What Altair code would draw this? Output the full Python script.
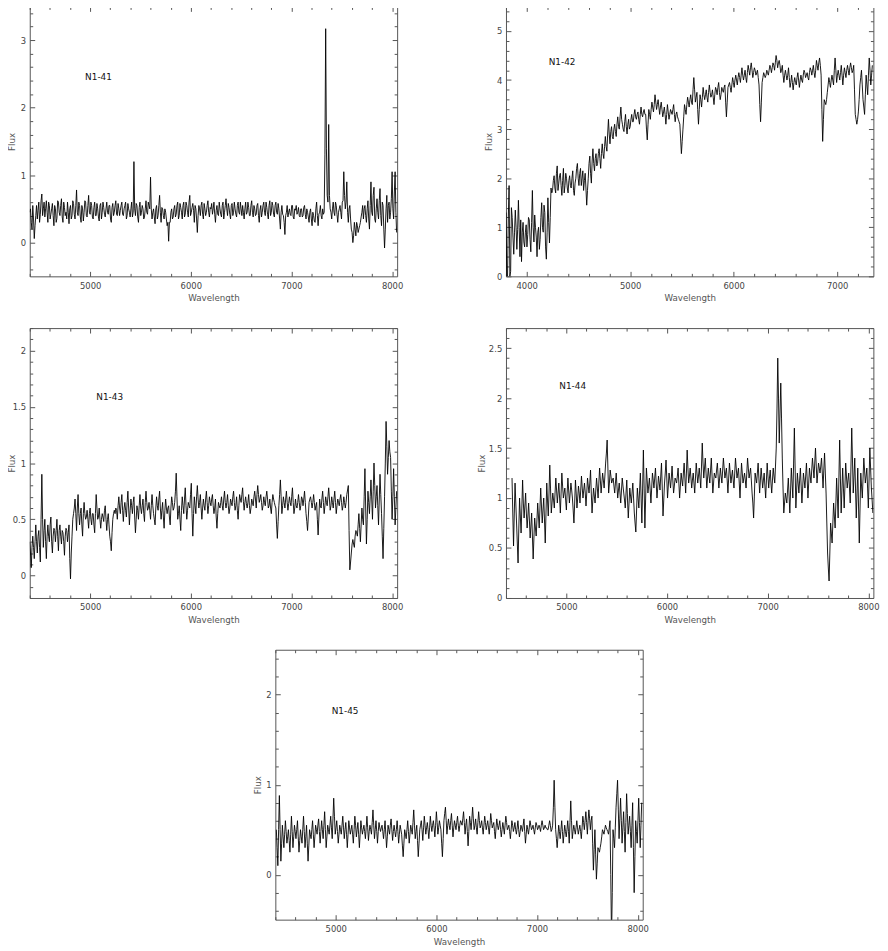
import altair as alt
import pandas as pd

W = 371.6
H = 273

# ---------------- data ----------------
# Each spectrum: flux read every 15 A from START, plus a second set of
# readings taken half-way between those samples (START + 7.5 + 15*i).
N141_START, N141_STEP = 4400, 15
N141_FLUX = [
    0.45, 0.3, 0.55, 0.06, 0.4, 0.35, 0.6, 0.42, 0.72, 0.5,
    0.38, 0.62, 0.3, 0.55, 0.42, 0.58, 0.25, 0.5, 0.36, 0.6,
    0.4, 0.65, 0.3, 0.52, 0.45, 0.6, 0.28, 0.55, 0.4, 0.58,
    0.35, 0.78, 0.4, 0.55, 0.3, 0.5, 0.45, 0.6, 0.38, 0.7,
    0.42, 0.55, 0.35, 0.6, 0.4, 0.5, 0.32, 0.58, 0.45, 0.52,
    0.38, 0.6, 0.42, 0.55, 0.3, 0.58, 0.45, 0.62, 0.4, 0.5,
    0.48, 0.6, 0.4, 0.55, 0.35, 0.58, 0.45, 0.5, 0.38, 1.2,
    0.4, 0.55, 0.3, 0.6, 0.45, 0.5, 0.38, 0.62, 0.42, 0.55,
    0.97, 0.35, 0.5, 0.28, 0.55, 0.4, 0.7, 0.3, 0.5, 0.35,
    0.45, 0.25, 0.02, 0.3, 0.5, 0.38, 0.55, 0.42, 0.6, 0.4,
    0.52, 0.35, 0.6, 0.42, 0.55, 0.38, 0.7, 0.45, 0.58, 0.3,
    0.5, 0.15, 0.55, 0.4, 0.6, 0.35, 0.5, 0.45, 0.62, 0.38,
    0.5, 0.42, 0.6, 0.3, 0.55, 0.4, 0.5, 0.38, 0.6, 0.45,
    0.65, 0.4, 0.52, 0.35, 0.58, 0.45, 0.5, 0.38, 0.6, 0.42,
    0.5, 0.55, 0.35, 0.6, 0.45, 0.52, 0.4, 0.62, 0.38, 0.5,
    0.42, 0.58, 0.3, 0.55, 0.45, 0.6, 0.4, 0.52, 0.35, 0.62,
    0.45, 0.55, 0.38, 0.6, 0.42, 0.5, 0.2, 0.55, 0.4, 0.12,
    0.45, 0.38, 0.5, 0.4, 0.55, 0.35, 0.48, 0.42, 0.52, 0.38,
    0.5, 0.4, 0.55, 0.35, 0.45, 0.3, 0.5, 0.25, 0.4, 0.3,
    0.6, 0.25, 0.45, 0.4, 0.5, 0.45, 3.17, 0.7, 1.75, 0.5,
    0.35, 0.6, 0.4, 0.55, 0.3, 0.5, 0.45, 0.6, 1.05, 0.5,
    0.9, 0.3, 0.55, 0.2, 0.0, 0.3, 0.1, 0.25, 0.2, 0.3,
    0.45, 0.35, 0.55, 0.3, 0.62, 0.2, 0.9, 0.4, 0.82, 0.3,
    0.65, 0.35, 0.8, 0.25, 0.55, -0.08, 0.5, 0.3, 0.6, 0.45,
    1.05, 0.35, 1.05, 0.15,
]
N141_MID = [
    0.5, 0.2, 0.35, 0.25, 0.55, 0.48, 0.3, 0.62, 0.4, 0.6,
    0.5, 0.45, 0.6, 0.35, 0.5, 0.4, 0.55, 0.3, 0.62, 0.45,
    0.55, 0.38, 0.6, 0.4, 0.35, 0.45, 0.5, 0.35, 0.62, 0.42,
    0.55, 0.45, 0.6, 0.38, 0.55, 0.32, 0.62, 0.4, 0.55, 0.45,
    0.6, 0.38, 0.52, 0.4, 0.58, 0.38, 0.55, 0.35, 0.6, 0.42,
    0.5, 0.45, 0.55, 0.35, 0.52, 0.4, 0.55, 0.42, 0.58, 0.4,
    0.55, 0.42, 0.5, 0.6, 0.4, 0.5, 0.38, 0.6, 0.45, 0.5,
    0.58, 0.38, 0.52, 0.4, 0.55, 0.35, 0.5, 0.45, 0.6, 0.5,
    0.5, 0.45, 0.38, 0.5, 0.35, 0.55, 0.45, 0.52, 0.4, 0.5,
    0.35, 0.3, 0.3, 0.45, 0.35, 0.5, 0.38, 0.55, 0.35, 0.58,
    0.45, 0.55, 0.38, 0.6, 0.45, 0.6, 0.4, 0.52, 0.48, 0.55,
    0.35, 0.4, 0.5, 0.55, 0.42, 0.58, 0.4, 0.55, 0.45, 0.52,
    0.58, 0.5, 0.42, 0.48, 0.42, 0.6, 0.42, 0.55, 0.35, 0.55,
    0.5, 0.58, 0.42, 0.55, 0.4, 0.6, 0.42, 0.55, 0.45, 0.6,
    0.4, 0.45, 0.5, 0.42, 0.6, 0.4, 0.55, 0.45, 0.55, 0.4,
    0.55, 0.4, 0.48, 0.38, 0.55, 0.45, 0.6, 0.42, 0.55, 0.4,
    0.6, 0.42, 0.55, 0.45, 0.58, 0.35, 0.45, 0.42, 0.3, 0.4,
    0.55, 0.45, 0.42, 0.55, 0.38, 0.5, 0.55, 0.45, 0.4, 0.5,
    0.38, 0.52, 0.42, 0.5, 0.38, 0.45, 0.35, 0.45, 0.32, 0.5,
    0.4, 0.42, 0.55, 0.35, 0.42, 1.3, 1.4, 0.6, 0.7, 0.45,
    0.5, 0.45, 0.6, 0.42, 0.45, 0.55, 0.35, 0.62, 0.7, 0.6,
    0.45, 0.5, 0.35, 0.15, 0.1, 0.2, 0.3, 0.15, 0.25, 0.38,
    0.55, 0.5, 0.4, 0.5, 0.35, 0.55, 0.45, 0.7, 0.35, 0.5,
    0.45, 0.62, 0.4, 0.6, 0.2, 0.2, 0.7, 0.55, 0.35, 0.65,
    0.5, 0.75, 0.45,
]

N142_START, N142_STEP = 3800, 15
N142_FLUX = [
    1.3, 0.0, 1.85, 0.1, 1.2, 0.45, 1.35, 0.55, 1.55, 0.4,
    0.3, 1.1, 0.6, 1.05, 0.85, 1.15, 0.5, 1.75, 0.7, 1.0,
    0.4, 1.0, 0.75, 1.5, 0.9, 1.3, 0.35, 1.6, 0.68, 1.8,
    1.75, 2.05, 1.7, 2.25, 1.9, 2.1, 1.65, 2.2, 1.85, 2.0,
    1.7, 2.05, 1.8, 2.15, 1.65, 2.0, 2.3, 1.85, 2.2, 2.0,
    1.75, 2.1, 1.45, 2.0, 2.45, 1.9, 2.6, 2.15, 2.5, 2.3,
    2.6, 2.2, 2.7, 2.4, 2.85, 2.55, 3.2, 2.7, 3.05, 2.8,
    3.1, 2.85, 3.25, 3.0, 3.45, 3.1, 2.95, 3.3, 2.9, 3.2,
    3.05, 3.3, 3.15, 3.4, 3.2, 3.35, 3.1, 3.45, 3.25, 3.4,
    3.3, 2.78, 3.4, 3.2, 3.55, 3.35, 3.7, 3.4, 3.6, 3.3,
    3.55, 3.25, 3.45, 3.1, 3.5, 3.2, 3.4, 3.3, 3.5, 3.15,
    3.35, 3.2, 3.1, 2.5, 3.0, 3.5, 3.3, 3.65, 3.45, 3.7,
    3.5, 4.05, 3.55, 3.75, 3.1, 3.7, 3.45, 3.85, 3.6, 3.8,
    3.55, 3.9, 3.65, 3.8, 3.5, 3.85, 3.7, 3.95, 3.6, 3.85,
    3.75, 3.9, 3.25, 3.85, 3.95, 3.75, 4.05, 3.85, 4.1, 3.9,
    4.15, 3.95, 4.25, 4.0, 4.2, 3.95, 4.3, 4.1, 4.35, 4.05,
    4.25, 4.1, 4.2, 3.9, 3.15, 3.95, 4.15, 4.05, 4.2, 4.1,
    4.3, 4.15, 4.35, 4.2, 4.5, 4.25, 4.4, 4.15, 4.3, 3.95,
    4.2, 4.0, 4.25, 3.85, 4.1, 3.8, 4.05, 3.9, 4.15, 3.85,
    4.1, 3.95, 4.2, 4.05, 4.15, 4.0, 4.25, 4.1, 4.3, 4.05,
    4.4, 4.2, 4.45, 4.1, 2.75, 3.6, 3.5, 3.75, 4.05, 3.85,
    4.1, 3.9, 4.45, 3.95, 4.2, 4.0, 4.3, 3.9, 4.25, 4.05,
    4.3, 4.1, 4.35, 4.15, 4.3, 3.3, 3.1, 3.35, 3.9, 4.2,
    3.6, 3.3, 4.1, 3.7, 4.45, 3.9, 4.3,
]
N142_MID = [
    0.0, 1.2, 0.0, 1.4, 0.8, 0.9, 1.0, 0.95, 1.0, 1.15,
    0.9, 0.7, 0.9, 0.6, 1.2, 0.75, 1.1, 1.0, 1.25, 0.8,
    0.9, 0.55, 1.2, 1.0, 1.45, 0.6, 0.9, 1.1, 1.2, 1.7,
    1.95, 1.8, 2.1, 1.75, 2.05, 1.85, 1.95, 1.7, 2.1, 1.8,
    1.95, 1.85, 2.0, 1.75, 1.9, 2.2, 2.0, 2.1, 1.85, 2.15,
    1.95, 1.8, 1.75, 2.3, 2.1, 2.35, 2.3, 2.4, 2.25, 2.5,
    2.4, 2.5, 2.5, 2.65, 2.65, 2.9, 2.9, 2.95, 2.85, 3.0,
    2.95, 3.1, 3.05, 3.25, 3.2, 3.0, 3.15, 3.05, 3.1, 3.0,
    3.2, 3.15, 3.3, 3.25, 3.3, 3.2, 3.3, 3.3, 3.35, 3.3,
    3.0, 3.1, 3.3, 3.4, 3.45, 3.5, 3.55, 3.5, 3.45, 3.45,
    3.4, 3.35, 3.3, 3.3, 3.35, 3.3, 3.35, 3.4, 3.3, 3.3,
    3.25, 3.15, 2.8, 2.75, 3.25, 3.4, 3.5, 3.55, 3.6, 3.55,
    3.8, 3.8, 3.65, 3.4, 3.4, 3.6, 3.65, 3.7, 3.7, 3.65,
    3.75, 3.75, 3.7, 3.65, 3.7, 3.8, 3.85, 3.75, 3.7, 3.8,
    3.85, 3.55, 3.55, 3.9, 3.85, 3.9, 3.95, 4.0, 4.0, 4.05,
    4.05, 4.1, 4.1, 4.1, 4.05, 4.15, 4.2, 4.25, 4.2, 4.15,
    4.2, 4.15, 4.05, 3.5, 3.55, 4.05, 4.1, 4.1, 4.15, 4.2,
    4.25, 4.25, 4.3, 4.35, 4.4, 4.35, 4.3, 4.2, 4.1, 4.1,
    4.1, 4.1, 4.05, 3.95, 3.95, 3.95, 3.95, 4.05, 4.0, 4.0,
    4.0, 4.1, 4.15, 4.1, 4.05, 4.15, 4.2, 4.2, 4.15, 4.2,
    4.3, 4.35, 4.3, 3.4, 3.2, 3.55, 3.6, 3.9, 3.95, 4.0,
    4.0, 4.2, 4.2, 4.1, 4.1, 4.15, 4.1, 4.1, 4.15, 4.2,
    4.2, 4.25, 4.25, 4.2, 3.8, 3.2, 3.2, 3.6, 4.05, 3.9,
    3.45, 3.7, 3.9, 4.1, 4.2, 4.1,
]

N143_START, N143_STEP = 4400, 15
N143_FLUX = [
    0.3, 0.07, 0.35, 0.15, 0.45, 0.2, 0.4, 0.12, 0.9, 0.25,
    0.5, 0.15, 0.45, 0.3, 0.52, 0.2, 0.42, 0.3, 0.5, 0.22,
    0.45, 0.28, 0.38, 0.18, 0.42, 0.3, 0.45, -0.03, 0.35, 0.55,
    0.68, 0.4, 0.72, 0.45, 0.6, 0.35, 0.65, 0.5, 0.58, 0.42,
    0.6, 0.45, 0.55, 0.38, 0.72, 0.5, 0.6, 0.42, 0.55, 0.48,
    0.62, 0.4, 0.55, 0.35, 0.22, 0.5, 0.58, 0.6, 0.5, 0.7,
    0.55, 0.72, 0.48, 0.65, 0.52, 0.75, 0.45, 0.68, 0.55, 0.7,
    0.38, 0.62, 0.5, 0.72, 0.55, 0.68, 0.48, 0.75, 0.58, 0.65,
    0.5, 0.72, 0.55, 0.45, 0.7, 0.58, 0.75, 0.5, 0.65, 0.42,
    0.68, 0.55, 0.62, 0.45, 0.7, 0.58, 0.65, 0.91, 0.5, 0.62,
    0.4, 0.7, 0.55, 0.78, 0.5, 0.65, 0.6, 0.82, 0.35, 0.7,
    0.55, 0.8, 0.6, 0.72, 0.5, 0.68, 0.58, 0.75, 0.55, 0.7,
    0.62, 0.72, 0.55, 0.68, 0.42, 0.65, 0.6, 0.7, 0.58, 0.75,
    0.6, 0.72, 0.55, 0.68, 0.62, 0.75, 0.58, 0.7, 0.5, 0.72,
    0.65, 0.78, 0.58, 0.7, 0.6, 0.72, 0.55, 0.68, 0.62, 0.75,
    0.6, 0.8, 0.65, 0.72, 0.58, 0.7, 0.62, 0.75, 0.6, 0.68,
    0.55, 0.72, 0.65, 0.6, 0.33, 0.62, 0.85, 0.55, 0.7, 0.6,
    0.75, 0.58, 0.7, 0.62, 0.78, 0.55, 0.68, 0.6, 0.72, 0.58,
    0.7, 0.62, 0.75, 0.55, 0.4, 0.65, 0.7, 0.6, 0.72, 0.58,
    0.65, 0.36, 0.68, 0.6, 0.75, 0.55, 0.7, 0.62, 0.78, 0.58,
    0.7, 0.6, 0.75, 0.55, 0.68, 0.62, 0.72, 0.58, 0.7, 0.6,
    0.72, 0.8, 0.05, 0.2, 0.32, 0.25, 0.4, 0.35, 0.55, 0.3,
    0.6, 0.45, 0.95, 0.28, 0.75, 0.55, 0.85, 0.5, 1.0, 0.6,
    0.8, 0.45, 0.9, 0.55, 0.15, 0.7, 1.37, 0.9, 1.2, 1.05,
    0.5, 0.95, 0.45, 0.75,
]
N143_MID = [
    0.2, 0.25, 0.25, 0.3, 0.3, 0.35, 0.25, 0.5, 0.5, 0.4,
    0.3, 0.35, 0.35, 0.45, 0.3, 0.35, 0.4, 0.4, 0.35, 0.4,
    0.35, 0.4, 0.3, 0.35, 0.4, 0.38, 0.15, 0.2, 0.5, 0.6,
    0.55, 0.6, 0.55, 0.55, 0.45, 0.55, 0.55, 0.52, 0.5, 0.55,
    0.5, 0.55, 0.45, 0.55, 0.6, 0.52, 0.5, 0.5, 0.52, 0.58,
    0.5, 0.5, 0.45, 0.3, 0.38, 0.55, 0.55, 0.58, 0.62, 0.6,
    0.65, 0.58, 0.6, 0.58, 0.65, 0.6, 0.58, 0.62, 0.65, 0.52,
    0.5, 0.58, 0.62, 0.6, 0.62, 0.55, 0.65, 0.65, 0.6, 0.58,
    0.62, 0.62, 0.5, 0.6, 0.62, 0.68, 0.6, 0.58, 0.52, 0.58,
    0.6, 0.6, 0.52, 0.6, 0.65, 0.6, 0.75, 0.7, 0.55, 0.5,
    0.58, 0.62, 0.68, 0.62, 0.58, 0.62, 0.72, 0.55, 0.55, 0.62,
    0.7, 0.68, 0.65, 0.6, 0.6, 0.62, 0.68, 0.65, 0.62, 0.65,
    0.68, 0.62, 0.6, 0.52, 0.55, 0.62, 0.65, 0.62, 0.68, 0.65,
    0.65, 0.62, 0.6, 0.65, 0.7, 0.65, 0.62, 0.58, 0.62, 0.68,
    0.72, 0.66, 0.65, 0.64, 0.65, 0.62, 0.6, 0.65, 0.7, 0.68,
    0.72, 0.72, 0.68, 0.65, 0.62, 0.65, 0.7, 0.68, 0.62, 0.6,
    0.65, 0.68, 0.62, 0.45, 0.48, 0.72, 0.7, 0.62, 0.65, 0.68,
    0.65, 0.64, 0.65, 0.7, 0.65, 0.6, 0.62, 0.65, 0.65, 0.62,
    0.68, 0.68, 0.65, 0.48, 0.52, 0.68, 0.65, 0.65, 0.65, 0.62,
    0.5, 0.52, 0.62, 0.68, 0.65, 0.62, 0.65, 0.7, 0.68, 0.62,
    0.65, 0.68, 0.65, 0.62, 0.65, 0.68, 0.65, 0.62, 0.65, 0.65,
    0.76, 0.4, 0.12, 0.28, 0.28, 0.35, 0.38, 0.45, 0.42, 0.45,
    0.5, 0.7, 0.6, 0.5, 0.65, 0.7, 0.68, 0.75, 0.8, 0.7,
    0.62, 0.68, 0.72, 0.35, 0.42, 1.0, 1.15, 1.05, 1.1, 0.75,
    0.7, 0.7, 0.6,
]

N144_START, N144_STEP = 4460, 15
N144_FLUX = [
    1.2, 0.52, 1.15, 0.75, 0.35, 1.0, 0.65, 1.18, 0.8, 1.05,
    0.7, 0.95, 0.6, 0.85, 0.39, 0.8, 0.62, 0.95, 0.7, 1.1,
    0.75, 1.0, 0.55, 1.15, 0.82, 1.33, 0.85, 1.05, 0.9, 1.2,
    0.95, 1.15, 0.85, 1.25, 1.0, 1.1, 0.88, 1.2, 0.95, 1.15,
    1.0, 0.75, 1.18, 0.9, 1.12, 0.95, 1.22, 1.0, 1.15, 0.92,
    1.2, 1.05, 1.28, 0.85, 1.1, 0.95, 1.2, 1.0, 1.3, 1.05,
    1.25, 1.1, 1.35, 1.58, 1.05, 1.28, 1.15, 1.2, 1.05, 1.25,
    1.0, 1.15, 0.95, 1.2, 1.05, 0.9, 1.18, 0.8, 1.1, 0.95,
    1.15, 0.85, 0.66, 1.1, 0.9, 1.25, 0.75, 1.48, 0.7, 1.3,
    1.05, 1.2, 0.95, 1.25, 1.1, 1.3, 1.0, 1.22, 1.08, 1.35,
    0.82, 1.15, 1.38, 1.0, 1.25, 1.1, 1.32, 1.05, 1.2, 1.15,
    1.3, 1.0, 1.25, 1.12, 1.35, 1.05, 1.48, 1.15, 1.3, 1.1,
    1.25, 1.05, 1.35, 1.15, 1.3, 1.1, 1.55, 1.2, 1.4, 1.1,
    1.3, 1.15, 1.4, 1.05, 1.25, 1.2, 1.35, 1.1, 1.3, 1.15,
    1.4, 1.2, 1.3, 1.05, 1.35, 1.15, 1.28, 1.1, 1.4, 1.2,
    1.3, 1.0, 1.35, 1.15, 1.25, 1.1, 1.4, 1.2, 1.3, 1.05,
    0.8, 1.25, 1.15, 1.35, 1.05, 1.3, 1.1, 1.25, 1.0, 1.35,
    1.1, 1.28, 1.05, 1.3, 1.15, 1.5, 2.4, 1.55, 2.15, 1.4,
    0.85, 1.05, 0.95, 1.2, 0.85, 1.3, 1.0, 1.7, 0.9, 1.25,
    1.05, 1.3, 0.95, 1.25, 1.1, 1.35, 1.0, 1.3, 1.15, 1.4,
    1.2, 1.5, 1.15, 1.35, 1.25, 1.4, 1.1, 1.45, 1.05, 0.45,
    0.17, 0.75, 0.55, 0.95, 0.7, 1.2, 0.8, 1.58, 0.85, 1.3,
    0.9, 1.35, 1.1, 1.25, 0.95, 1.7, 1.05, 1.4, 0.8, 1.3,
    0.55, 1.25, 1.0, 1.4, 1.15, 1.3, 0.9, 1.5, 1.1, 0.85,
]
N144_MID = [
    0.85, 0.85, 0.95, 0.55, 0.7, 0.82, 0.9, 0.95, 0.92, 0.85,
    0.82, 0.78, 0.72, 0.62, 0.6, 0.7, 0.78, 0.82, 0.9, 0.92,
    0.88, 0.78, 0.85, 0.98, 1.05, 1.1, 0.95, 0.98, 1.05, 1.08,
    1.05, 1.0, 1.05, 1.12, 1.05, 0.98, 1.05, 1.08, 1.05, 1.08,
    0.88, 0.95, 1.05, 1.0, 1.05, 1.08, 1.1, 1.08, 1.05, 1.05,
    1.12, 1.15, 1.05, 0.98, 1.02, 1.08, 1.1, 1.15, 1.18, 1.15,
    1.18, 1.22, 1.45, 1.3, 1.15, 1.22, 1.18, 1.12, 1.15, 1.12,
    1.08, 1.05, 1.08, 1.12, 0.98, 1.05, 0.98, 0.95, 1.02, 1.05,
    1.0, 0.75, 0.88, 1.0, 1.08, 1.0, 1.1, 1.1, 1.0, 1.18,
    1.12, 1.08, 1.1, 1.18, 1.2, 1.15, 1.1, 1.15, 1.22, 1.1,
    0.98, 1.25, 1.2, 1.12, 1.18, 1.2, 1.18, 1.12, 1.18, 1.22,
    1.15, 1.12, 1.18, 1.25, 1.2, 1.25, 1.3, 1.22, 1.2, 1.18,
    1.15, 1.2, 1.25, 1.22, 1.2, 1.32, 1.35, 1.3, 1.25, 1.2,
    1.22, 1.28, 1.22, 1.15, 1.22, 1.28, 1.22, 1.2, 1.22, 1.28,
    1.3, 1.25, 1.18, 1.2, 1.25, 1.22, 1.18, 1.25, 1.3, 1.25,
    1.15, 1.18, 1.25, 1.2, 1.18, 1.25, 1.3, 1.25, 1.18, 0.95,
    1.02, 1.2, 1.25, 1.2, 1.18, 1.2, 1.18, 1.12, 1.18, 1.22,
    1.2, 1.15, 1.18, 1.22, 1.32, 1.9, 2.0, 1.85, 1.8, 1.1,
    0.95, 1.0, 1.08, 1.02, 1.08, 1.15, 1.35, 1.3, 1.08, 1.15,
    1.18, 1.12, 1.1, 1.18, 1.22, 1.18, 1.15, 1.22, 1.28, 1.3,
    1.35, 1.32, 1.25, 1.3, 1.32, 1.25, 1.28, 1.25, 0.75, 0.3,
    0.45, 0.65, 0.75, 0.82, 0.95, 1.0, 1.2, 1.2, 1.08, 1.1,
    1.12, 1.22, 1.18, 1.1, 1.32, 1.38, 1.22, 1.1, 1.05, 0.92,
    0.9, 1.12, 1.2, 1.28, 1.22, 1.1, 1.2, 1.3, 0.98,
]

N145_START, N145_STEP = 4410, 15
N145_FLUX = [
    0.5, 0.1, 0.88, 0.15, 0.55, 0.3, 0.6, 0.35, 0.5, 0.25,
    0.65, 0.3, 0.55, 0.4, 0.6, 0.25, 0.5, 0.35, 0.65, 0.3,
    0.55, 0.15, 0.5, 0.4, 0.6, 0.3, 0.55, 0.45, 0.62, 0.35,
    0.6, 0.4, 0.7, 0.3, 0.55, 0.45, 0.65, 0.4, 0.85, 0.45,
    0.6, 0.35, 0.55, 0.45, 0.65, 0.4, 0.58, 0.3, 0.6, 0.45,
    0.55, 0.35, 0.65, 0.42, 0.58, 0.3, 0.6, 0.45, 0.55, 0.4,
    0.65, 0.38, 0.55, 0.45, 0.72, 0.4, 0.6, 0.35, 0.58, 0.48,
    0.55, 0.4, 0.6, 0.3, 0.55, 0.45, 0.62, 0.38, 0.55, 0.42,
    0.6, 0.35, 0.55, 0.45, 0.2, 0.5, 0.4, 0.6, 0.35, 0.55,
    0.45, 0.72, 0.4, 0.55, 0.2, 0.5, 0.6, 0.38, 0.65, 0.45,
    0.58, 0.4, 0.65, 0.48, 0.6, 0.42, 0.7, 0.45, 0.6, 0.5,
    0.2, 0.6, 0.75, 0.45, 0.62, 0.5, 0.68, 0.42, 0.6, 0.5,
    0.65, 0.48, 0.6, 0.55, 0.7, 0.45, 0.62, 0.32, 0.65, 0.5,
    0.75, 0.5, 0.62, 0.45, 0.7, 0.52, 0.6, 0.45, 0.65, 0.5,
    0.6, 0.45, 0.68, 0.52, 0.58, 0.4, 0.62, 0.5, 0.6, 0.42,
    0.58, 0.45, 0.65, 0.5, 0.55, 0.4, 0.6, 0.48, 0.58, 0.45,
    0.6, 0.42, 0.55, 0.48, 0.62, 0.35, 0.55, 0.45, 0.6, 0.5,
    0.55, 0.45, 0.58, 0.5, 0.55, 0.48, 0.6, 0.5, 0.55, 0.52,
    0.5, 0.6, 0.48, 0.55, 1.05, 0.5, 0.3, 0.55, 0.4, 0.6,
    0.35, 0.55, 0.42, 0.6, 0.35, 0.82, 0.4, 0.55, 0.45, 0.6,
    0.45, 0.55, 0.4, 0.65, 0.5, 0.7, 0.45, 0.72, 0.5, 0.65,
    0.05, 0.5, -0.05, 0.3, 0.25, 0.35, 0.5, 0.45, 0.55, 0.5,
    0.45, 0.6, -0.7, 0.5, 0.3, 0.75, 1.05, 0.4, 0.85, 0.35,
    0.7, 0.25, 0.9, 0.45, 0.65, 0.3, 0.8, -0.2, 0.6, 0.35,
    0.85, 0.3, 0.8,
]
N145_MID = [
    0.3, 0.5, 0.5, 0.35, 0.42, 0.45, 0.48, 0.42, 0.38, 0.45,
    0.48, 0.42, 0.48, 0.5, 0.42, 0.38, 0.42, 0.5, 0.48, 0.42,
    0.35, 0.32, 0.45, 0.5, 0.45, 0.42, 0.5, 0.55, 0.48, 0.48,
    0.5, 0.55, 0.5, 0.42, 0.5, 0.55, 0.52, 0.62, 0.65, 0.52,
    0.48, 0.45, 0.5, 0.55, 0.52, 0.5, 0.45, 0.45, 0.52, 0.5,
    0.45, 0.5, 0.55, 0.5, 0.45, 0.45, 0.52, 0.5, 0.48, 0.52,
    0.52, 0.48, 0.5, 0.58, 0.55, 0.5, 0.48, 0.48, 0.52, 0.52,
    0.48, 0.5, 0.45, 0.42, 0.5, 0.55, 0.5, 0.48, 0.48, 0.5,
    0.48, 0.45, 0.5, 0.32, 0.35, 0.45, 0.5, 0.48, 0.45, 0.5,
    0.58, 0.55, 0.48, 0.38, 0.35, 0.55, 0.5, 0.52, 0.55, 0.52,
    0.5, 0.52, 0.55, 0.55, 0.52, 0.55, 0.58, 0.52, 0.55, 0.35,
    0.4, 0.68, 0.6, 0.55, 0.55, 0.6, 0.55, 0.52, 0.55, 0.58,
    0.55, 0.55, 0.58, 0.62, 0.58, 0.55, 0.48, 0.48, 0.58, 0.62,
    0.62, 0.55, 0.52, 0.58, 0.6, 0.55, 0.52, 0.55, 0.58, 0.55,
    0.52, 0.55, 0.6, 0.55, 0.48, 0.52, 0.55, 0.55, 0.5, 0.5,
    0.52, 0.55, 0.58, 0.52, 0.48, 0.5, 0.55, 0.52, 0.5, 0.52,
    0.5, 0.48, 0.52, 0.55, 0.48, 0.45, 0.5, 0.52, 0.55, 0.52,
    0.5, 0.52, 0.55, 0.52, 0.52, 0.55, 0.55, 0.52, 0.52, 0.5,
    0.55, 0.55, 0.5, 0.75, 0.75, 0.4, 0.42, 0.48, 0.5, 0.48,
    0.45, 0.48, 0.5, 0.48, 0.58, 0.6, 0.48, 0.5, 0.52, 0.52,
    0.5, 0.48, 0.52, 0.58, 0.6, 0.58, 0.6, 0.62, 0.6, 0.35,
    0.28, 0.22, 0.12, 0.28, 0.3, 0.42, 0.48, 0.5, 0.52, 0.48,
    0.52, 0.0, -0.2, 0.4, 0.52, 0.9, 0.72, 0.62, 0.6, 0.52,
    0.48, 0.58, 0.68, 0.55, 0.48, 0.55, 0.3, 0.2, 0.48, 0.6,
    0.58, 0.55,
]

NAMES = ["N1-41", "N1-42", "N1-43", "N1-44", "N1-45"]
LABEL_X = [4950, 4213, 5061, 4930, 4960]
LABEL_Y = [2.46, 4.36, 1.59, 2.12, 1.82]

X_LABELS_A = [5000, 6000, 7000, 8000]
X_LABELS_B = [4000, 5000, 6000, 7000]
Y_LABELS_1 = [0, 1, 2, 3]
Y_LABELS_2 = [0, 1, 2, 3, 4, 5]
Y_LABELS_3 = [0, 0.5, 1, 1.5, 2]
Y_LABELS_4 = [0, 0.5, 1, 1.5, 2, 2.5]
Y_LABELS_5 = [0, 1, 2]

X_TICKS_A = list(range(4400, 8001, 200))
X_TICKS_B = list(range(3800, 7201, 200))
Y_TICKS_1 = [round(i * 0.2, 1) for i in range(-2, 18)]
Y_TICKS_2 = [round(i * 0.2, 1) for i in range(0, 28)]
Y_TICKS_3 = [round(i * 0.1, 1) for i in range(-2, 23)]
Y_TICKS_4 = [round(i * 0.1, 1) for i in range(0, 28)]
Y_TICKS_5 = [round(i * 0.2, 1) for i in range(-2, 13)]

MAJOR_INT = "abs(datum.value - round(datum.value)) < 0.001"
MAJOR_HALF = "abs(datum.value * 2 - round(datum.value * 2)) < 0.001"


def spectrum(start, step, flux, mid):
    wl = [start + i * step for i in range(len(flux))]
    wl += [start + step / 2 + i * step for i in range(len(mid))]
    df = pd.DataFrame({"wavelength": wl, "flux": list(flux) + list(mid)})
    return df.sort_values("wavelength").reset_index(drop=True)


def panel(idx, df, xdom, ydom, xlabels, xticks, ylabels, yticks, ymajor, title_x):
    xs = alt.Scale(domain=xdom, nice=False, zero=False)
    ys = alt.Scale(domain=ydom, nice=False, zero=False)
    line = alt.Chart(df).mark_line(
        color="#000000", strokeWidth=0.9, strokeJoin="round", clip=True
    ).encode(
        x=alt.X("wavelength:Q", scale=xs, axis=alt.Axis(
            orient="bottom", values=xlabels, format="d", ticks=False,
            domain=False, grid=False, labelPadding=5, labelFlush=False,
            labelOverlap=False, title="Wavelength", titleY=21.7,
            titleBaseline="middle")),
        y=alt.Y("flux:Q", scale=ys, axis=alt.Axis(
            orient="left", values=ylabels, format="~g", ticks=False,
            domain=False, grid=False, labelPadding=4.3, labelOverlap=False,
            title="Flux", titleX=title_x, titleBaseline="middle",
            titleAngle=270)),
        order="wavelength:Q",
    )
    lab_df = pd.DataFrame({"x": [LABEL_X[idx]], "y": [LABEL_Y[idx]],
                           "t": [NAMES[idx]]})
    xt = {"condition": {"test": "datum.value % 1000 === 0", "value": 5}, "value": 3}
    yt = {"condition": {"test": ymajor, "value": 5}, "value": 3}
    common = dict(labels=False, domain=False, grid=False, title=None,
                  ticks=True, tickColor="#555", tickWidth=1)
    label = alt.Chart(lab_df).mark_text(
        align="left", baseline="middle", font="DejaVu Sans", fontSize=9,
        color="#111"
    ).encode(
        x=alt.X("x:Q", scale=xs, axis=alt.Axis(
            orient="top", offset=-H, values=xticks, tickSize=xt, **common)),
        y=alt.Y("y:Q", scale=ys, axis=alt.Axis(
            orient="right", offset=-W, values=yticks, tickSize=yt, **common)),
        text="t:N",
    )
    ghost = alt.Chart(lab_df).mark_point(opacity=0).encode(
        x=alt.X("x:Q", scale=xs, axis=alt.Axis(
            orient="bottom", offset=-H, values=xticks, tickSize=xt, **common)),
        y=alt.Y("y:Q", scale=ys, axis=alt.Axis(
            orient="left", offset=-W, values=yticks, tickSize=yt, **common)),
    )
    return alt.layer(line, label, ghost).resolve_axis(
        x="independent", y="independent"
    ).properties(width=W, height=H)


p1 = panel(0, spectrum(N141_START, N141_STEP, N141_FLUX, N141_MID), [4400, 8050], [-0.5, 3.5],
           X_LABELS_A, X_TICKS_A, Y_LABELS_1, Y_TICKS_1, MAJOR_INT, -18)
p2 = panel(1, spectrum(N142_START, N142_STEP, N142_FLUX, N142_MID), [3800, 7350], [0, 5.5],
           X_LABELS_B, X_TICKS_B, Y_LABELS_2, Y_TICKS_2, MAJOR_INT, -18)
p3 = panel(2, spectrum(N143_START, N143_STEP, N143_FLUX, N143_MID), [4400, 8050], [-0.2, 2.2],
           X_LABELS_A, X_TICKS_A, Y_LABELS_3, Y_TICKS_3, MAJOR_HALF, -18)
p4 = panel(3, spectrum(N144_START, N144_STEP, N144_FLUX, N144_MID), [4400, 8050], [0, 2.7],
           X_LABELS_A, X_TICKS_A, Y_LABELS_4, Y_TICKS_4, MAJOR_HALF, -25)
p5 = panel(4, spectrum(N145_START, N145_STEP, N145_FLUX, N145_MID), [4400, 8050], [-0.5, 2.5],
           X_LABELS_A, X_TICKS_A, Y_LABELS_5, Y_TICKS_5, MAJOR_INT, -18.5)

spacer_df = pd.DataFrame({"x": [0], "y": [0]})
spacer = alt.Chart(spacer_df).mark_point(opacity=0).encode(
    x=alt.X("x:Q", axis=None), y=alt.Y("y:Q", axis=None)
).properties(width=200, height=10, view=alt.ViewBackground(stroke="transparent"))

row3 = alt.hconcat(spacer, p5, spacing=48.4, bounds="flush")

chart = alt.concat(
    p1, p2, p3, p4, row3,
    columns=2, spacing={"row": 52.35, "column": 109.7},
    bounds="flush",
).properties(
    padding={"top": -8, "left": -1, "right": 0, "bottom": 0},
    background="white",
).configure_view(
    stroke="#555", strokeWidth=1
).configure_axis(
    labelFont="DejaVu Sans", labelFontSize=8.5, labelColor="#444",
    titleFont="DejaVu Sans", titleFontSize=8.8, titleFontWeight="normal",
    titleColor="#555",
)

chart.save("out.html", embed_options={"renderer": "svg", "actions": False})
